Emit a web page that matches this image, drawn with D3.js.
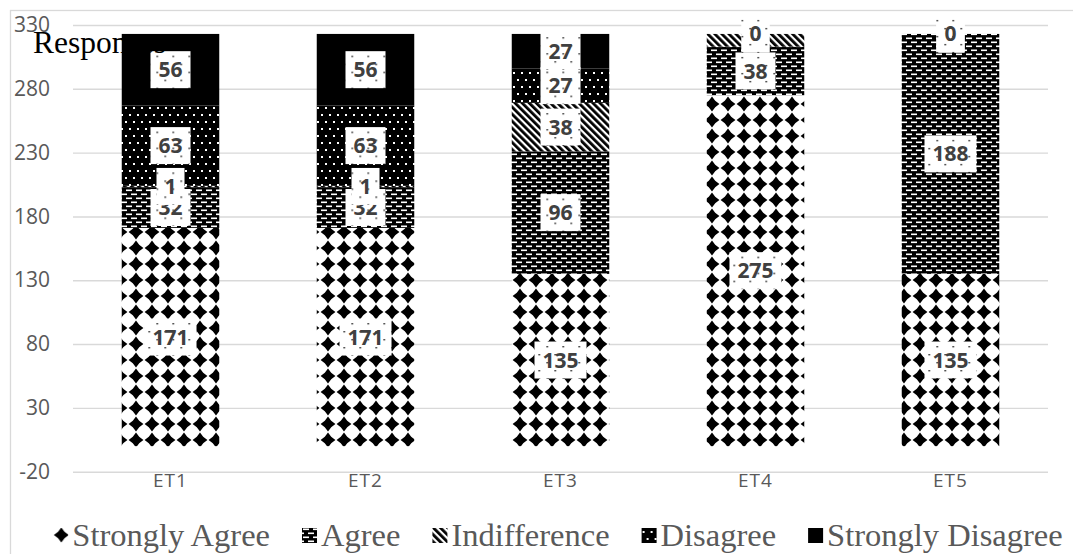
<!DOCTYPE html>
<html>
<head>
<meta charset="utf-8">
<script src="https://cdn.jsdelivr.net/npm/d3@7"></script>
<style>
  html, body { margin: 0; padding: 0; background: #fff; }
  svg { display: block; }
</style>
</head>
<body>
<svg id="chart" width="1073" height="554"></svg>
<script>
// Survey responses per item, stacked by answer
const categories = ["ET1", "ET2", "ET3", "ET4", "ET5"];
const seriesNames = ["Strongly Agree", "Agree", "Indifference", "Disagree", "Strongly Disagree"];
const stronglyAgree = [171, 171, 135, 275, 135];
const agree = [32, 32, 96, 38, 188];
const indifference = [1, 1, 38, 10, 0];
const disagree = [63, 63, 27, 0, 0];
const stronglyDisagree = [56, 56, 27, 0, 0];
const yTicks = [-20, 30, 80, 130, 180, 230, 280, 330];
const yTitle = "Responses";
// labels that sit under another label and are not shown
const hiddenLabels = [["ET4", "Indifference"]];

const seriesValues = [stronglyAgree, agree, indifference, disagree, stronglyDisagree];
const seriesFill = ["url(#pDiamond)", "url(#pBrick)", "url(#pDiag)", "url(#pDots)", "#000"];

const rows = categories.map((c, i) => {
  const r = { category: c };
  seriesNames.forEach((s, k) => { r[s] = seriesValues[k][i]; });
  return r;
});

const svg = d3.select("#chart");
const W = 1073, H = 554;

// ---- fill patterns ----
const defs = svg.append("defs");

const pd = defs.append("pattern").attr("id", "pDiamond")
  .attr("patternUnits", "userSpaceOnUse").attr("width", 16).attr("height", 16);
pd.append("rect").attr("width", 16).attr("height", 16).attr("fill", "#fff");
pd.append("path").attr("d", "M8,0.6 L11.2,4.8 L15.4,8 L11.2,11.2 L8,15.4 L4.8,11.2 L0.6,8 L4.8,4.8 Z").attr("fill", "#000");

const pb = defs.append("pattern").attr("id", "pBrick")
  .attr("patternUnits", "userSpaceOnUse").attr("width", 10).attr("height", 8);
pb.append("rect").attr("width", 10).attr("height", 8).attr("fill", "#000");
pb.append("rect").attr("x", 1).attr("y", 1.5).attr("width", 6).attr("height", 1.6).attr("fill", "#fff");
pb.append("rect").attr("x", 6).attr("y", 5.5).attr("width", 6).attr("height", 1.6).attr("fill", "#fff");
pb.append("rect").attr("x", -4).attr("y", 5.5).attr("width", 6).attr("height", 1.6).attr("fill", "#fff");

const pg = defs.append("pattern").attr("id", "pDiag")
  .attr("patternUnits", "userSpaceOnUse").attr("width", 5).attr("height", 5)
  .attr("patternTransform", "rotate(-45)");
pg.append("rect").attr("width", 5).attr("height", 5).attr("fill", "#fff");
pg.append("rect").attr("width", 2.8).attr("height", 5).attr("fill", "#000");

const pt = defs.append("pattern").attr("id", "pDots")
  .attr("patternUnits", "userSpaceOnUse").attr("width", 8).attr("height", 14);
pt.append("rect").attr("width", 8).attr("height", 14).attr("fill", "#000");
pt.append("rect").attr("x", 1).attr("y", 2).attr("width", 2).attr("height", 2).attr("fill", "#fff");
pt.append("rect").attr("x", 5).attr("y", 9).attr("width", 2).attr("height", 2).attr("fill", "#fff");

const pl = defs.append("pattern").attr("id", "pLabel")
  .attr("patternUnits", "userSpaceOnUse").attr("width", 16).attr("height", 16);
pl.append("rect").attr("width", 16).attr("height", 16).attr("fill", "#fff");
pl.append("rect").attr("x", 2).attr("y", 2).attr("width", 1.4).attr("height", 1.4).attr("fill", "#000");
pl.append("rect").attr("x", 10).attr("y", 10).attr("width", 1.4).attr("height", 1.4).attr("fill", "#000");

// ---- chart frame ----
svg.append("rect").attr("x", 10.5).attr("y", 10.5).attr("width", W + 20).attr("height", H + 20)
  .attr("fill", "#fff").attr("stroke", "#d9d9d9").attr("stroke-width", 1.3);

// ---- scales ----
const x = d3.scaleBand().domain(categories).range([73, 1048]).paddingInner(0.5).paddingOuter(0.25);
const y = d3.scaleLinear().domain([-20, 330]).range([471.7, 25]);

// gridlines and y tick labels (plain hyphen for negatives)
const yAxis = d3.axisLeft(y).tickValues(yTicks).tickSize(-(1048 - 73)).tickPadding(23)
  .tickFormat(d => String(d));
const yg = svg.append("g").attr("transform", "translate(73,0)").call(yAxis);
yg.select(".domain").remove();
yg.selectAll(".tick line").attr("stroke", "#d9d9d9").attr("stroke-width", 1.4);
yg.selectAll(".tick text").attr("fill", "#595959")
  .style("font-family", "'Open Sans', sans-serif").style("font-size", "21px");

// category labels
const xAxis = d3.axisBottom(x).tickSize(0).tickPadding(0);
const xg = svg.append("g").attr("transform", "translate(0,471.7)").call(xAxis);
xg.select(".domain").remove();
xg.selectAll(".tick text").attr("fill", "#595959").attr("dy", "0.78em")
  .style("font-family", "'Open Sans', sans-serif").style("font-size", "19px")
  .style("letter-spacing", "1px");

// ---- stacked bars ----
const stack = d3.stack().keys(seriesNames)(rows);
const layers = svg.append("g").selectAll("g").data(stack).join("g")
  .attr("fill", (d, i) => seriesFill[i]);
layers.selectAll("rect").data(d => d).join("rect")
  .attr("x", d => x(d.data.category))
  .attr("width", x.bandwidth())
  .attr("y", d => y(d[1]))
  .attr("height", d => y(d[0]) - y(d[1]));

// ---- value labels ----
const labelItems = [];
categories.forEach((c, ci) => {
  stack.forEach((layer, si) => {
    const hidden = hiddenLabels.some(h => h[0] === c && h[1] === seriesNames[si]);
    if (hidden) return;
    const d = layer[ci];
    labelItems.push({ category: c, value: d[1] - d[0], mid: (d[0] + d[1]) / 2 });
  });
});
const lg = svg.append("g");
labelItems.forEach(it => {
  const g = lg.append("g").attr("transform", `translate(${x(it.category) + x.bandwidth() / 2},${y(it.mid)})`);
  const box = g.append("rect").attr("fill", "url(#pLabel)");
  const t = g.append("text").text(it.value)
    .attr("text-anchor", "middle").attr("dy", "0.36em")
    .attr("fill", "#404040")
    .style("font-family", "'Open Sans', sans-serif").style("font-size", "21px").style("font-weight", 700);
  const w = t.node().getComputedTextLength() + 16;
  box.attr("x", -w / 2).attr("y", -18.5).attr("width", w).attr("height", 37);
});

// ---- axis title ----
svg.append("text").text(yTitle).attr("x", 33).attr("y", 53)
  .attr("fill", "#000")
  .style("font-family", "'Liberation Serif', serif").style("font-size", "31.5px");

// ---- legend ----
const legend = svg.append("g");
const items = seriesNames.map((s, i) => {
  const g = legend.append("g");
  g.append("rect").attr("width", 15).attr("height", 15).attr("y", -15).attr("fill", seriesFill[i]);
  const t = g.append("text").text(s).attr("x", 19).attr("y", 0).attr("dy", "0.1em")
    .attr("fill", "#595959")
    .style("font-family", "'Liberation Serif', serif").style("font-size", "32.5px");
  return { g, w: 19 + t.node().getComputedTextLength() };
});
const gap = 32;
const total = d3.sum(items, d => d.w) + gap * (items.length - 1);
let lx = 558 - total / 2;
items.forEach(it => {
  it.g.attr("transform", `translate(${lx},543)`);
  lx += it.w + gap;
});
</script>
</body>
</html>
